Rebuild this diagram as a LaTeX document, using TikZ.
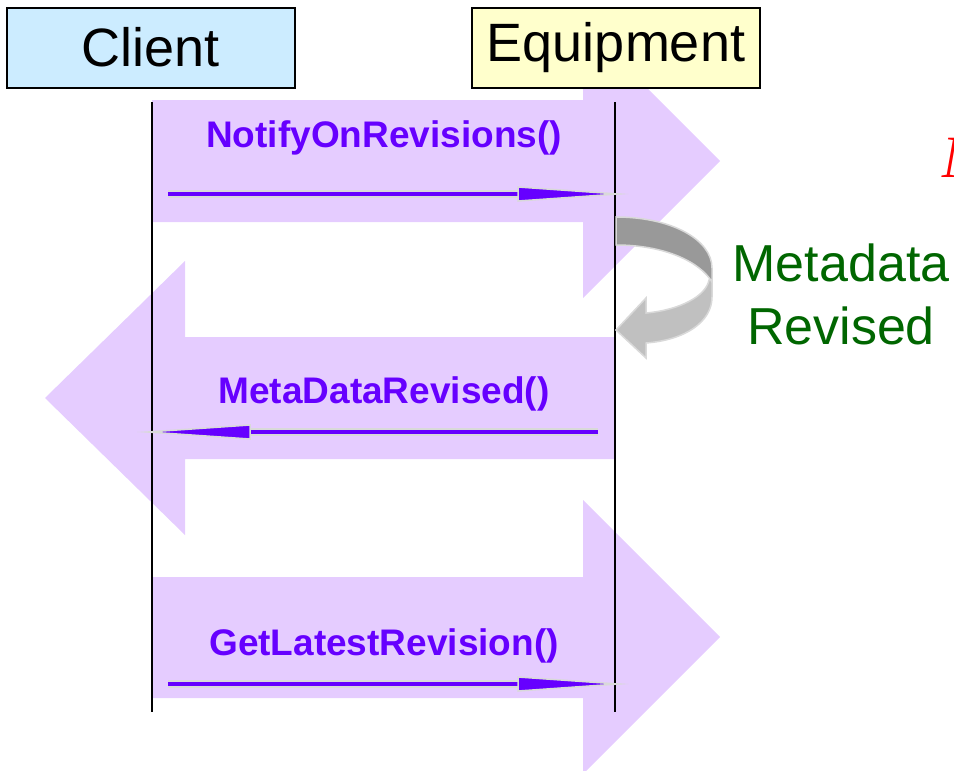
\documentclass[tikz,border=0pt]{standalone}
\usepackage{fontspec}
\setmainfont{Liberation Sans}
\newfontfamily\serifit{Liberation Serif}
\usepackage{tikz}
\usetikzlibrary{positioning, calc}

\definecolor{bandfill}{RGB}{229,204,255}
\definecolor{msgcol}{RGB}{102,0,255}
\definecolor{rimgray}{RGB}{217,217,217}
\definecolor{clientfill}{RGB}{204,236,255}
\definecolor{equipfill}{RGB}{255,255,204}
\definecolor{turndark}{RGB}{153,153,153}
\definecolor{turnlight}{RGB}{192,192,192}
\definecolor{notegreen}{RGB}{0,102,0}

\tikzstyle{actor} = [draw=black, line width=2pt, minimum width=288pt, minimum height=80pt, inner sep=0pt, font=\fontsize{54}{60}\selectfont]
\tikzstyle{band} = [fill=bandfill]
\tikzstyle{lifeline} = [line width=2pt]
\tikzstyle{msg} = [draw=rimgray, double=msgcol, double distance=4.5pt, line width=1.5pt]
\tikzstyle{msghead} = [fill=msgcol, draw=rimgray, line width=1.5pt, miter limit=25]
\tikzstyle{msglabel} = [text=msgcol, inner sep=0pt, font=\bfseries\fontsize{37}{40}\selectfont]
\tikzstyle{turn} = [draw=rimgray, line width=1.5pt]

\begin{document}
\begin{tikzpicture}[x=1pt, y=-1pt]
\useasboundingbox (0,0) rectangle (954,771);

% Big message bands
\fill [band] (152,100) -- (583,100) -- (583,24) -- (720,161) -- (583,298) -- (583,222) -- (152,222) -- cycle;
\fill [band] (615,337) -- (185,337) -- (185,261) -- (45,398) -- (185,535) -- (185,459) -- (615,459) -- cycle;
\fill [band] (152,577) -- (583,577) -- (583,500) -- (720,637) -- (583,774) -- (583,698) -- (152,698) -- cycle;

% Actors
\node [actor, fill=clientfill] (client) at (151,47.5) {Client};
\node [actor, fill=equipfill] (equip) at (616,47.5) {Equipment};

% Lifelines
\coordinate (cltop) at (152,102);
\coordinate (clbot) at (152,712);
\coordinate (eqtop) at (615,102);
\coordinate (eqbot) at (615,712);
\draw [lifeline] (cltop) -- (clbot);
\draw [lifeline] (eqtop) -- (eqbot);

% NotifyOnRevisions
\node [msglabel] (notify) at (384,138) {NotifyOnRevisions()};
\coordinate (n1) at (168,194);
\coordinate (n2) at (518,194);
\coordinate (n3) at (618,194);
\draw [msg] (n1) -- (n2);
\draw [msghead] ($(n2)+(0,-7)$) -- (n3) -- ($(n2)+(0,7)$) -- cycle;

% Revision loop
\draw [turn, fill=turnlight] (712,278) -- (712,297) .. controls (712,322) and (685,340) .. (646,343) -- (646,358) -- (616,330) -- (646,298) -- (646,313) .. controls (680,310) and (706,296) .. (709,280) -- cycle;
\draw [turn, fill=turndark] (616,217) .. controls (672,217) and (712,240) .. (712,268) -- (712,282) .. controls (700,262) and (665,245) .. (616,245) -- cycle;
\node [text=notegreen, align=center, font=\fontsize{52}{63}\selectfont] (revnote) at (841,294) {Metadata\\Revised};

% MetaDataRevised
\node [msglabel] (revised) at (384,394) {MetaDataRevised()};
\coordinate (m1) at (598,432);
\coordinate (m2) at (250,432);
\coordinate (m3) at (148,432);
\draw [msg] (m1) -- (m2);
\draw [msghead] ($(m2)+(0,-7)$) -- (m3) -- ($(m2)+(0,7)$) -- cycle;

% GetLatestRevision
\node [msglabel] (latest) at (384,646) {GetLatestRevision()};
\coordinate (g1) at (168,684);
\coordinate (g2) at (518,684);
\coordinate (g3) at (618,684);
\draw [msg] (g1) -- (g2);
\draw [msghead] ($(g2)+(0,-7)$) -- (g3) -- ($(g2)+(0,7)$) -- cycle;

% cut-off note at the right edge
\node [text=red, inner sep=0pt, anchor=base west, font=\serifit\itshape\fontsize{60}{66}\selectfont] (edgenote) at (942,177) {M};

\end{tikzpicture}
\end{document}
